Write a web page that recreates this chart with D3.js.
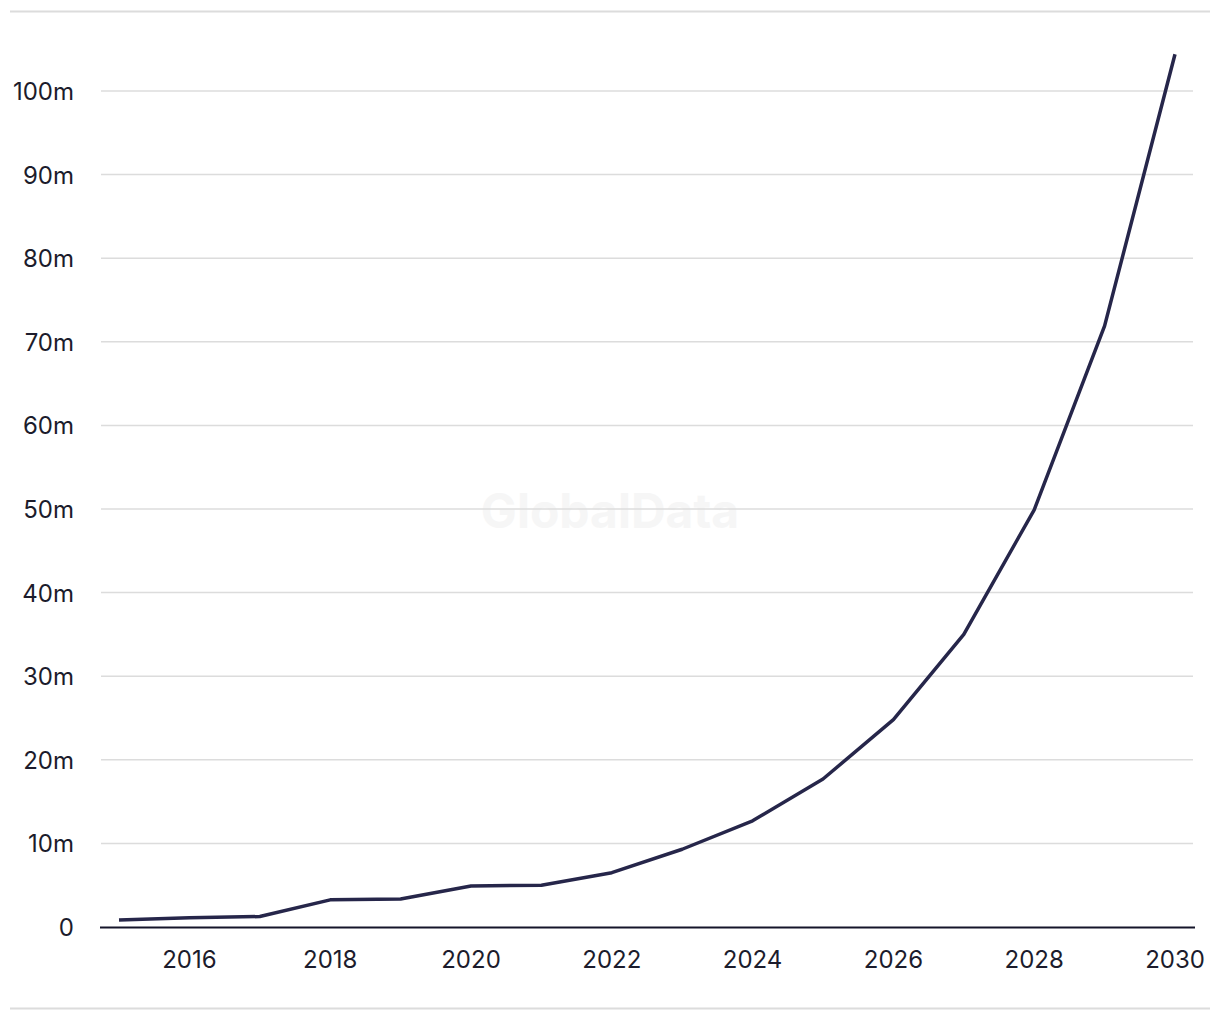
<!DOCTYPE html>
<html>
<head>
<meta charset="utf-8">
<script src="https://cdn.jsdelivr.net/npm/d3@7"></script>
<style>
  body { margin: 0; background: #fff; }
  svg { display: block; font-family: Inter, "Open Sans", sans-serif; }
</style>
</head>
<body>
<svg id="chart" width="1220" height="1020"></svg>
<script>
// Values (millions)
const years = [2015, 2016, 2017, 2018, 2019, 2020, 2021, 2022, 2023, 2024, 2025, 2026, 2027, 2028, 2029, 2030];
const values = [0.85, 1.1, 1.25, 3.25, 3.35, 4.9, 5.0, 6.5, 9.3, 12.7, 17.7, 24.8, 35.0, 49.9, 71.9, 104.4];
const yTicks = [0, 10, 20, 30, 40, 50, 60, 70, 80, 90, 100];
const xTicks = [2016, 2018, 2020, 2022, 2024, 2026, 2028, 2030];

const svg = d3.select("#chart");
const margin = { left: 100, right: 1194, top: 91, bottom: 927 };

const x = d3.scaleLinear().domain([2015, 2030]).range([119, 1175]);
const y = d3.scaleLinear().domain([0, 100]).range([margin.bottom, margin.top]);

// top and bottom frame lines
svg.append("line")
  .attr("x1", 10).attr("x2", 1210).attr("y1", 11.5).attr("y2", 11.5)
  .attr("stroke", "#dcdcdc").attr("stroke-width", 2);
svg.append("line")
  .attr("x1", 10).attr("x2", 1210).attr("y1", 1008.5).attr("y2", 1008.5)
  .attr("stroke", "#dcdcdc").attr("stroke-width", 2);

// watermark
svg.append("text")
  .attr("x", 610).attr("y", 528)
  .attr("text-anchor", "middle")
  .attr("font-size", 48).attr("font-weight", 700)
  .attr("fill", "#f6f6f6")
  .text("GlobalData");

// gridlines
svg.append("g")
  .selectAll("line")
  .data(yTicks.filter((d) => d > 0))
  .enter()
  .append("line")
  .attr("x1", 101).attr("x2", 1193)
  .attr("y1", (d) => y(d)).attr("y2", (d) => y(d))
  .attr("stroke", "#dcdcdc").attr("stroke-width", 1.5);

// y labels
svg.append("g")
  .selectAll("text")
  .data(yTicks)
  .enter()
  .append("text")
  .attr("x", 74)
  .attr("y", (d) => y(d) + 9)
  .attr("text-anchor", "end")
  .attr("font-size", 24)
  .attr("fill", "#1c1c2c")
  .text((d) => (d === 0 ? "0" : d + "m"));

// x axis labels
svg.append("g")
  .selectAll("text")
  .data(xTicks)
  .enter()
  .append("text")
  .attr("x", (d) => x(d))
  .attr("y", 968)
  .attr("text-anchor", "middle")
  .attr("font-size", 24)
  .attr("fill", "#1c1c2c")
  .text((d) => d);

svg.append("line")
  .attr("x1", 100).attr("x2", 1195)
  .attr("y1", margin.bottom + 0.5).attr("y2", margin.bottom + 0.5)
  .attr("stroke", "#15152a").attr("stroke-width", 2);

// series line
const line = d3.line()
  .x((d, i) => x(years[i]))
  .y((d) => y(d));

svg.append("path")
  .datum(values)
  .attr("d", line)
  .attr("fill", "none")
  .attr("stroke", "#26264a")
  .attr("stroke-width", 3.5)
  .attr("stroke-linejoin", "round");
</script>
</body>
</html>
